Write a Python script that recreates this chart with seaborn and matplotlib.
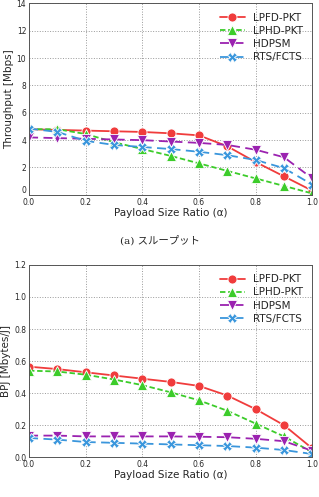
import numpy as np
import pandas as pd
import matplotlib
matplotlib.use("Agg")
import matplotlib.pyplot as plt
import seaborn as sns

sns.set_style("whitegrid")
plt.rcParams['font.family'] = ['DejaVu Sans', 'Noto Sans CJK JP']

alpha = [0.0, 0.1, 0.2, 0.3, 0.4, 0.5, 0.6, 0.7, 0.8, 0.9, 1.0]
methods = ["LPFD-PKT", "LPHD-PKT", "HDPSM", "RTS/FCTS"]

# throughput [Mbps]
thr_lpfd = [4.8, 4.75, 4.7, 4.65, 4.6, 4.5, 4.35, 3.55, 2.4, 1.35, 0.3]
thr_lphd = [4.8, 4.8, 4.45, 3.85, 3.35, 2.85, 2.3, 1.75, 1.2, 0.65, 0.1]
thr_hdpsm = [4.2, 4.15, 4.1, 4.05, 4.0, 3.9, 3.8, 3.65, 3.3, 2.75, 1.2]
thr_rts = [4.85, 4.6, 3.95, 3.65, 3.5, 3.35, 3.15, 2.9, 2.55, 1.95, 0.75]

# BPJ [Mbytes/J]
bpj_lpfd = [0.565, 0.55, 0.53, 0.51, 0.49, 0.47, 0.445, 0.385, 0.30, 0.20, 0.055]
bpj_lphd = [0.54, 0.535, 0.515, 0.485, 0.45, 0.405, 0.355, 0.29, 0.21, 0.13, 0.03]
bpj_hdpsm = [0.135, 0.135, 0.13, 0.13, 0.13, 0.13, 0.128, 0.125, 0.115, 0.10, 0.04]
bpj_rts = [0.12, 0.11, 0.095, 0.09, 0.085, 0.08, 0.075, 0.07, 0.06, 0.045, 0.02]

colors = {"LPFD-PKT": "#f03c3c", "LPHD-PKT": "#3ccc2a", "HDPSM": "#9b22b0", "RTS/FCTS": "#3a96dc"}
markers = {"LPFD-PKT": "o", "LPHD-PKT": "^", "HDPSM": "v", "RTS/FCTS": "X"}
dashes = {"LPFD-PKT": "", "LPHD-PKT": (3, 1.5), "HDPSM": (5, 3), "RTS/FCTS": (5, 3)}


def long_df(series):
    rows = []
    for m, vals in zip(methods, series):
        for a, v in zip(alpha, vals):
            rows.append({"alpha": a, "value": v, "method": m})
    return pd.DataFrame(rows)


df_thr = long_df([thr_lpfd, thr_lphd, thr_hdpsm, thr_rts])
df_bpj = long_df([bpj_lpfd, bpj_lphd, bpj_hdpsm, bpj_rts])

fig = plt.figure(figsize=(3.19, 4.97), dpi=100)
ax1 = fig.add_axes([0.091, 0.608, 0.888, 0.385])
ax2 = fig.add_axes([0.091, 0.080, 0.888, 0.387])


def draw(ax, df, ylim, yticks, yminor, ylabel):
    sns.lineplot(data=df, x="alpha", y="value", hue="method", style="method",
                 palette=colors, markers=markers, dashes=dashes, ax=ax,
                 linewidth=1.3, markersize=6.5, markeredgewidth=0.6)
    ax.set_xlim(0, 1)
    ax.set_ylim(*ylim)
    ax.set_xticks(np.arange(0, 1.01, 0.2))
    ax.set_xticks(np.arange(0, 1.01, 0.1), minor=True)
    ax.set_yticks(yticks)
    ax.set_yticks(yminor, minor=True)
    ax.set_xticklabels([f"{t:.1f}" for t in np.arange(0, 1.01, 0.2)])
    ax.tick_params(axis="both", which="both", direction="in", labelsize=5.5,
                   length=2, width=0.5, pad=2)
    ax.grid(True, which="major", linestyle=":", color="#999999", linewidth=0.7)
    ax.grid(False, which="minor")
    for s in ax.spines.values():
        s.set_color("#555555")
        s.set_linewidth(0.7)
    ax.set_xlabel("Payload Size Ratio (α)", fontsize=7.5, labelpad=1)
    ax.set_ylabel(ylabel, fontsize=7.5, labelpad=2)
    ax.legend(loc="upper right", fontsize=7.5, frameon=False,
              handlelength=2.4, labelspacing=0.3, borderaxespad=0.5)


draw(ax1, df_thr, (0, 14), [0, 2, 4, 6, 8, 10, 12, 14], np.arange(0, 14.1, 1),
     "Throughput [Mbps]")
ax1.set_yticklabels(["0", "2", "4", "6", "8", "10", "12", "14"])
# keep the "0" label clear of the "0.0" x label
ax1.get_yticklabels()[0].set_va("bottom")
draw(ax2, df_bpj, (0, 1.2), [0, 0.2, 0.4, 0.6, 0.8, 1.0, 1.2], np.arange(0, 1.21, 0.1),
     "BPJ [Mbytes/J]")
ax2.set_yticklabels(["0.0", "0.2", "0.4", "0.6", "0.8", "1.0", "1.2"])

fig.text(0.5, 0.516, "(a) スループット", ha="center", va="center", fontsize=7.5,
         family=["DejaVu Serif", "Noto Sans CJK JP"])

fig.savefig("out.png", dpi=100)
